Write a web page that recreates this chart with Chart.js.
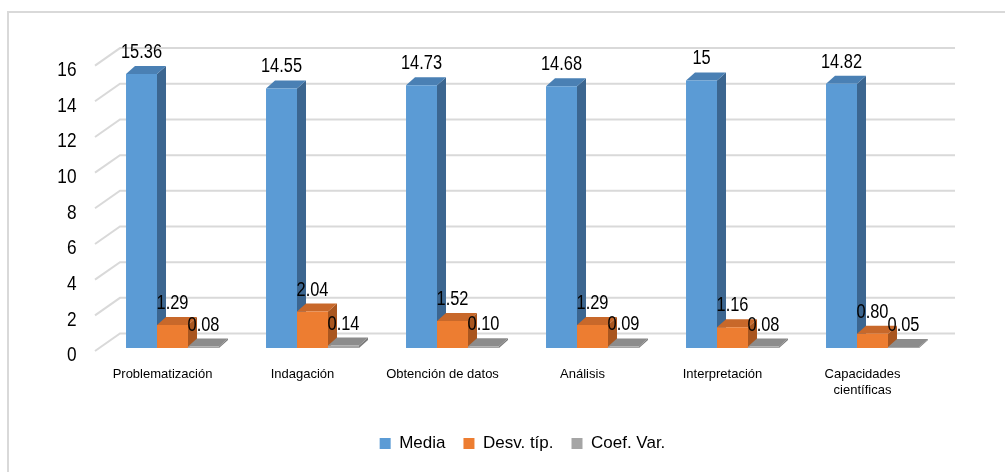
<!DOCTYPE html>
<html>
<head>
<meta charset="utf-8">
<script src="https://cdn.jsdelivr.net/npm/chart.js@4.4.1/dist/chart.umd.min.js"></script>
<style>
  html, body { margin: 0; padding: 0; background: #fff; }
  #wrap { width: 1005px; height: 472px; }
</style>
</head>
<body>
<div id="wrap"><canvas id="Chart1"></canvas></div>
<script>
const category_list = ['Problematización', 'Indagación', 'Obtención de datos', 'Análisis', 'Interpretación', ['Capacidades', 'científicas']];
const media_values = [15.36, 14.55, 14.73, 14.68, 15, 14.82];
const desv_values = [1.29, 2.04, 1.52, 1.29, 1.16, 0.80];
const coef_values = [0.08, 0.14, 0.10, 0.09, 0.08, 0.05];
const series_names = ['Media', 'Desv. típ.', 'Coef. Var.'];
const y_tick_values = [0, 2, 4, 6, 8, 10, 12, 14, 16];

const base_font = "'Liberation Sans', Arial, sans-serif";
const front_colors = ['#5B9BD5', '#ED7D31', '#A5A5A5'];
const top_colors = ['#4A80B4', '#C8682A', '#8C8C8C'];
const side_colors = ['#3C6690', '#A9561F', '#7A7A7A'];
const depth_x = 9;
const depth_y = 8;

// media shows as is, the others keep two decimals
function label_text(d, v) {
    if (d == 0) return String(v);
    return v.toFixed(2);
}

// no narrow font here, so squeeze the regular one
function draw_narrow(ctx, text, x, y) {
    ctx.save();
    ctx.translate(x, y);
    ctx.scale(0.82, 1);
    ctx.fillText(text, 0, 0);
    ctx.restore();
}

const frame_3d = {
    id: 'frame_3d',
    beforeDraw(chart) {
        let ctx = chart.ctx;
        ctx.save();
        ctx.fillStyle = '#ffffff';
        ctx.fillRect(0, 0, chart.width, chart.height);
        ctx.strokeStyle = '#d9d9d9';
        ctx.lineWidth = 2;
        ctx.strokeRect(8, 12, chart.width + 20, chart.height + 20);
        ctx.restore();
    },
    beforeDatasetsDraw(chart) {
        let ctx = chart.ctx;
        let area = chart.chartArea;
        let y_scale = chart.scales.y;
        ctx.save();
        // walls: back gridlines plus the slanted lines to the front
        ctx.strokeStyle = '#d9d9d9';
        ctx.lineWidth = 2;
        for (let v of y_tick_values) {
            let y = y_scale.getPixelForValue(v);
            ctx.beginPath();
            ctx.moveTo(area.left - 7.5, y + 3);
            ctx.lineTo(area.left + 17.5, y - 14.5);
            ctx.lineTo(area.right + 12.5, y - 14.5);
            ctx.stroke();
        }
        ctx.fillStyle = '#000';
        ctx.font = '21px ' + base_font;
        ctx.textAlign = 'right';
        ctx.textBaseline = 'middle';
        for (let v of y_tick_values) {
            let y = y_scale.getPixelForValue(v);
            draw_narrow(ctx, String(v), area.left - 26, y + 7.5);
        }
        // side and top faces, the front face is the library's own bar
        for (let i = 0; i < category_list.length; i++) {
            for (let d = 0; d < 3; d++) {
                let bar = chart.getDatasetMeta(d).data[i];
                let left = bar.x - bar.width / 2;
                let right = bar.x + bar.width / 2;
                let top = bar.y;
                let bottom = bar.base;
                ctx.fillStyle = side_colors[d];
                ctx.beginPath();
                ctx.moveTo(right, top);
                ctx.lineTo(right + depth_x, top - depth_y);
                ctx.lineTo(right + depth_x, bottom - depth_y);
                ctx.lineTo(right, bottom);
                ctx.closePath();
                ctx.fill();
                ctx.fillStyle = top_colors[d];
                ctx.beginPath();
                ctx.moveTo(left, top);
                ctx.lineTo(left + depth_x, top - depth_y);
                ctx.lineTo(right + depth_x, top - depth_y);
                ctx.lineTo(right, top);
                ctx.closePath();
                ctx.fill();
            }
        }
        ctx.restore();
    },
    afterDatasetsDraw(chart) {
        let ctx = chart.ctx;
        ctx.save();
        ctx.fillStyle = '#000';
        ctx.font = '20px ' + base_font;
        ctx.textAlign = 'center';
        ctx.textBaseline = 'alphabetic';
        for (let d = 0; d < 3; d++) {
            let meta = chart.getDatasetMeta(d);
            let values = chart.data.datasets[d].data;
            for (let i = 0; i < values.length; i++) {
                let bar = meta.data[i];
                draw_narrow(ctx, label_text(d, values[i]), bar.x, bar.y - 16);
            }
        }
        ctx.restore();
    }
};

let data = {
    labels: category_list,
    datasets: [media_values, desv_values, coef_values].map((values, d) => {
        return {
            label: series_names[d],
            data: values,
            backgroundColor: front_colors[d],
            borderWidth: 0,
            barPercentage: 1,
            categoryPercentage: 0.664
        };
    })
};

let config = {
    type: 'bar',
    data: data,
    plugins: [frame_3d],
    options: {
        responsive: true,
        maintainAspectRatio: false,
        animation: false,
        layout: { padding: { left: 102.5, right: 62.5, top: 62.6, bottom: 10 } },
        plugins: {
            tooltip: { enabled: false },
            legend: {
                position: 'bottom',
                labels: {
                    boxWidth: 11,
                    boxHeight: 11,
                    padding: 18,
                    color: '#000',
                    font: { family: base_font, size: 17 }
                }
            }
        },
        scales: {
            x: {
                grid: { display: false },
                border: { display: false },
                ticks: {
                    color: '#000',
                    font: { family: base_font, size: 13 },
                    padding: 11,
                    labelOffset: -10,
                    maxRotation: 0,
                    autoSkip: false
                },
                afterFit(scale) {
                    scale.height = 69;
                }
            },
            y: {
                min: 0,
                max: 16,
                display: false
            }
        }
    }
};

let chart = new Chart(document.getElementById('Chart1'), config);
</script>
</body>
</html>
